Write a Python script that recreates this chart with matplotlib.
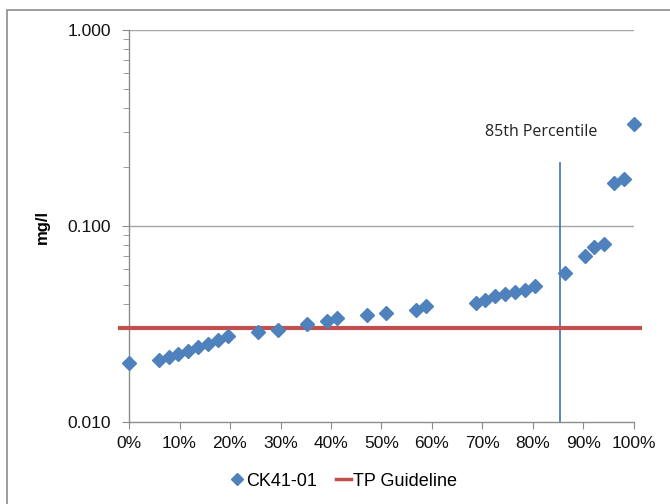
import matplotlib
matplotlib.use("Agg")
import matplotlib.pyplot as plt
from matplotlib.patches import Rectangle
from matplotlib.lines import Line2D
from matplotlib.ticker import FixedLocator, LogLocator, NullFormatter, FuncFormatter

# ---- data ----
percentiles = [0.0, 5.88, 7.84, 9.80, 11.76, 13.73, 15.69, 17.65, 19.61, 25.49,
               29.41, 35.29, 39.22, 41.18, 47.06, 50.98, 56.86, 58.82, 68.63, 70.59,
               72.55, 74.51, 76.47, 78.43, 80.39, 86.27, 90.20, 92.16, 94.12, 96.08,
               98.04, 100.0]
values = [0.0201, 0.0207, 0.0215, 0.0222, 0.0230, 0.0241, 0.0250, 0.0262, 0.0274, 0.0287,
          0.0295, 0.0318, 0.0327, 0.0338, 0.0350, 0.0360, 0.0372, 0.0390, 0.0403, 0.0420,
          0.0437, 0.0452, 0.0458, 0.0470, 0.0492, 0.0575, 0.0700, 0.0780, 0.0810, 0.1650,
          0.1740, 0.3300]
series_name = "CK41-01"
guideline_name = "TP Guideline"
guideline_value = 0.030
guideline_x = [-2.2, 101.6]
p85_x = 85.4
p85_top = 0.21
p85_label = "85th Percentile"
xticks = [0, 10, 20, 30, 40, 50, 60, 70, 80, 90, 100]
yticks = [0.01, 0.1, 1.0]
ylabel = "mg/l"

blue = "#4f81bd"
red = "#c0504d"
grid_gray = "#a6a6a6"

plt.rcParams['font.family'] = ['Liberation Sans', 'DejaVu Sans']

fig = plt.figure(figsize=(6.70, 5.04), dpi=100)
W, H = 670, 504

# outer chart frame
fig.patches.append(Rectangle((7 / W, 0 - 0.05), 1.2, 1 - 10 / H + 0.05,
                             transform=fig.transFigure, fill=False,
                             edgecolor="#8c8c8c", linewidth=1.2))

ax = fig.add_axes([129 / W, 1 - 422 / H, (634 - 129) / W, (422 - 30) / H])
ax.set_yscale('log')
ax.set_xlim(0, 100)
ax.set_ylim(0.01, 1.0)

for y in yticks[1:]:
    ax.axhline(y, color=grid_gray, linewidth=1.0, zorder=1)

ax.plot(guideline_x, [guideline_value, guideline_value], color=red, linewidth=3.0,
        solid_capstyle='butt', clip_on=False, zorder=3)
ax.plot([p85_x, p85_x], [0.01, p85_top], color="#4a7ebb", linewidth=1.3, zorder=2)
ax.text(81.6, 0.30, p85_label, fontsize=11.5, family=['Open Sans', 'DejaVu Sans'],
        ha='center', va='center', color="#222222")

ax.plot(percentiles, values, linestyle='none', marker='D', markersize=7.4,
        color=blue, markeredgecolor=blue, zorder=4, clip_on=False)

for s in ['top', 'right']:
    ax.spines[s].set_visible(False)
for s in ['left', 'bottom']:
    ax.spines[s].set_color("#8c8c8c")
    ax.spines[s].set_linewidth(1.0)

ax.xaxis.set_major_locator(FixedLocator(xticks))
ax.xaxis.set_major_formatter(FuncFormatter(lambda v, p: f"{int(round(v))}%"))
ax.yaxis.set_major_locator(FixedLocator(yticks))
ax.yaxis.set_major_formatter(FuncFormatter(lambda v, p: f"{v:.3f}"))
ax.yaxis.set_minor_locator(LogLocator(base=10, subs=range(2, 10)))
ax.yaxis.set_minor_formatter(NullFormatter())
ax.tick_params(axis='both', which='major', length=5, color="#8c8c8c", labelsize=12.5,
               labelcolor="#111111")
ax.tick_params(axis='y', which='major', pad=8)
ax.tick_params(axis='x', which='major', pad=5)
ax.tick_params(axis='y', which='minor', length=4, color="#8c8c8c")

fig.text(42 / W, 1 - 227 / H, ylabel, rotation=90, fontsize=12, fontweight='bold',
         ha='center', va='center')

handles = [Line2D([], [], linestyle='none', marker='D', markersize=6, color=blue),
           Line2D([], [], color=red, linewidth=2.5)]
fig.legend(handles, [series_name, guideline_name], loc='center',
           bbox_to_anchor=(343 / W, 1 - 481 / H), ncol=2, frameon=False,
           fontsize=13, handlelength=0.8, handletextpad=0.1, columnspacing=1.1)

fig.savefig("out.png", dpi=100)
